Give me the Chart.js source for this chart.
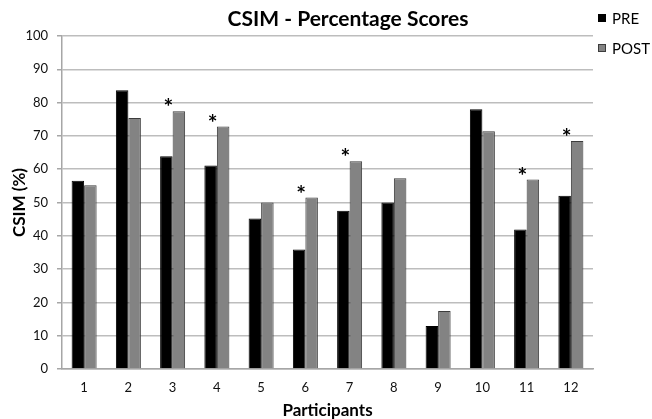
<!DOCTYPE html>
<html>
<head>
<meta charset="utf-8">
<script src="https://cdn.jsdelivr.net/npm/chart.js@4/dist/chart.umd.min.js"></script>
<style>
  html, body { margin: 0; padding: 0; background: #fff; }
  #wrap { width: 652px; height: 419px; position: relative; }
</style>
</head>
<body>
<div id="wrap"><canvas id="c" width="652" height="419"></canvas></div>
<script>
const participants = ['1','2','3','4','5','6','7','8','9','10','11','12'];
const preScores  = [56.5, 83.7, 63.9, 61.1, 45.2, 35.9, 47.5, 50.0, 12.9, 78.0, 41.9, 52.0];
const postScores = [55.2, 75.4, 77.4, 72.8, 50.0, 51.5, 62.4, 57.3, 17.4, 71.4, 56.9, 68.5];
const significant = [false, false, true, true, false, true, true, false, false, false, true, true];
const yTicks = [0, 10, 20, 30, 40, 50, 60, 70, 80, 90, 100];
const chartTitle = 'CSIM - Percentage Scores';
const xTitle = 'Participants';
const yTitle = 'CSIM (%)';

const FONT = 'Lato, "Open Sans", sans-serif';

const decorPlugin = {
  id: 'decor',
  afterDatasetsDraw(chart) {
    const ctx = chart.ctx;
    const preMeta = chart.getDatasetMeta(0);
    const postMeta = chart.getDatasetMeta(1);
    ctx.save();
    // significance asterisks
    ctx.fillStyle = '#000';
    ctx.font = 'bold 23px ' + FONT;
    ctx.textAlign = 'center';
    ctx.textBaseline = 'alphabetic';
    significant.forEach((s, i) => {
      if (!s) return;
      const x = preMeta.data[i].x + 2;
      const top = postMeta.data[i].y;
      ctx.fillText('*', x, top + 4);
    });
    // title
    ctx.font = 'bold 21px ' + FONT;
    ctx.textBaseline = 'middle';
    ctx.fillStyle = '#000';
    ctx.fillText(chartTitle, 348, 19);
    // legend
    ctx.textAlign = 'left';
    ctx.font = '15px ' + FONT;
    chart.data.datasets.forEach((ds, k) => {
      const cy = 18 + k * 30;
      ctx.fillStyle = ds.backgroundColor;
      ctx.fillRect(598, cy - 4, 8, 8);
      ctx.strokeStyle = ds.borderColor;
      ctx.lineWidth = 1;
      ctx.strokeRect(598.5, cy - 3.5, 7, 7);
      ctx.fillStyle = '#000';
      ctx.fillText(ds.label, 612, cy + 1);
    });
    ctx.restore();
  }
};

new Chart(document.getElementById('c'), {
  type: 'bar',
  data: {
    labels: participants,
    datasets: [
      { label: 'PRE', data: preScores, backgroundColor: '#000000', borderColor: '#000000', borderWidth: 1 },
      { label: 'POST', data: postScores, backgroundColor: '#838383', borderColor: '#3c3c3c', borderWidth: 1 }
    ]
  },
  options: {
    responsive: false,
    animation: false,
    events: [],
    layout: { padding: { left: 0, right: 59, top: 36, bottom: 0 } },
    datasets: { bar: { categoryPercentage: 0.565, barPercentage: 1.0 } },
    plugins: {
      legend: { display: false },
      title: { display: false },
      tooltip: { enabled: false }
    },
    scales: {
      x: {
        grid: { display: false, drawTicks: false },
        border: { display: true, color: '#a6a6a6', width: 1.5 },
        ticks: { color: '#111', font: { family: FONT, size: 13 }, padding: 11, maxRotation: 0 },
        title: { display: true, text: xTitle, color: '#000', font: { family: FONT, size: 17, weight: 'bold', lineHeight: 1 }, padding: { top: 0, bottom: 0 } },
        afterFit(s) { s.height = 50; }
      },
      y: {
        min: 0, max: 100,
        afterBuildTicks(s) { s.ticks = yTicks.map(v => ({ value: v })); },
        grid: { color: '#bdbdbd', lineWidth: 1.5, tickLength: 5, tickColor: '#a6a6a6' },
        border: { display: true, color: '#a6a6a6', width: 1.5 },
        ticks: { color: '#111', font: { family: FONT, size: 13 }, padding: 9 },
        title: { display: true, text: yTitle, color: '#000', font: { family: FONT, size: 17, weight: 'bold', lineHeight: 1 }, padding: { top: 11, bottom: 4 } },
        afterFit(s) { s.width = 62; }
      }
    }
  },
  plugins: [decorPlugin]
});
</script>
</body>
</html>
